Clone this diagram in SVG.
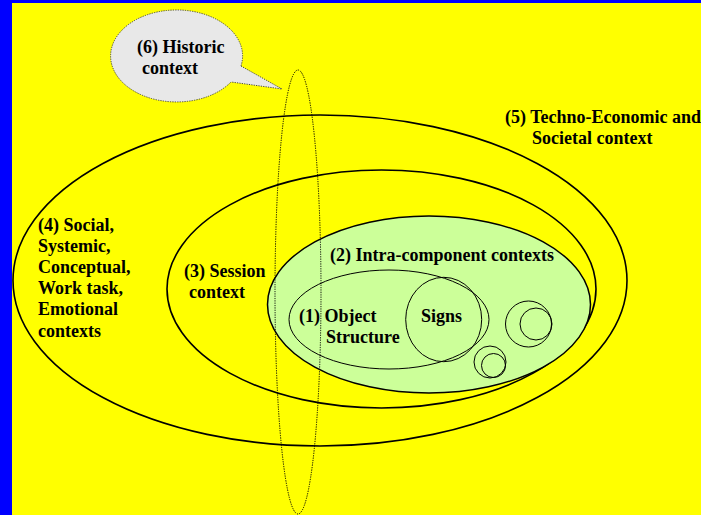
<svg xmlns="http://www.w3.org/2000/svg" width="701" height="515" viewBox="0 0 701 515">
<style>
.lbl{font-family:"Liberation Serif","Times New Roman",serif;font-weight:bold;font-size:18px;fill:#000}
.ring{fill:none;stroke:#000;stroke-width:1.6}
.thin{fill:none;stroke:#000;stroke-width:1}
.dot{fill:none;stroke:#000;stroke-width:1;stroke-dasharray:1.2 1.2}
</style>
<rect x="0" y="0" width="701" height="515" fill="#ffff00"/>
<rect x="0" y="0" width="12" height="515" fill="#0000ff"/>
<rect x="0" y="0" width="701" height="3" fill="#0000ff"/>
<g id="techno-economic">
<ellipse class="ring" cx="320" cy="280.5" rx="307" ry="165.5"/>
<text class="lbl" x="505" y="123">(5) Techno-Economic and</text>
<text class="lbl" x="532" y="144">Societal context</text>
</g>
<g id="social">
<text class="lbl" x="38" y="231">(4) Social,</text>
<text class="lbl" x="38" y="252">Systemic,</text>
<text class="lbl" x="38" y="273">Conceptual,</text>
<text class="lbl" x="38" y="294">Work task,</text>
<text class="lbl" x="38" y="315">Emotional</text>
<text class="lbl" x="38" y="337">contexts</text>
</g>
<g id="session">
<ellipse class="ring" cx="381.5" cy="289" rx="214.5" ry="119"/>
<text class="lbl" x="184" y="277">(3) Session</text>
<text class="lbl" x="189" y="298">context</text>
</g>
<g id="intra-component">
<ellipse cx="429" cy="304.5" rx="161.5" ry="88.5" fill="#ccff99" stroke="#000" stroke-width="1.5"/>
<text class="lbl" x="330" y="261">(2) Intra-component contexts</text>
</g>
<g id="object-structure">
<ellipse class="thin" cx="389" cy="319.5" rx="100" ry="49.5" stroke-width="1.2"/>
<text class="lbl" x="299" y="322">(1) Object</text>
<text class="lbl" x="326" y="343">Structure</text>
</g>
<g id="signs">
<ellipse class="thin" cx="443.7" cy="319.5" rx="38" ry="42.2" stroke-width="1.2"/>
<text class="lbl" x="421" y="322">Signs</text>
</g>
<g id="component-a">
<circle class="thin" cx="528.5" cy="324" r="23"/>
<circle class="thin" cx="536" cy="324" r="16"/>
</g>
<g id="component-b">
<circle class="thin" cx="490" cy="362" r="16"/>
<circle class="thin" cx="493.5" cy="365.5" r="12"/>
</g>
<g id="historic">
<ellipse class="dot" cx="298" cy="292" rx="23" ry="222"/>
<path d="M241,66 L282,89 L231,82 A66,46 0 1 1 241,66 Z" fill="#e8e8e8" stroke="#444" stroke-width="1" stroke-dasharray="1.2 1.2"/>
<text class="lbl" x="137" y="53">(6) Historic</text>
<text class="lbl" x="142" y="74">context</text>
</g>
<g id="connectors"/>
</svg>
